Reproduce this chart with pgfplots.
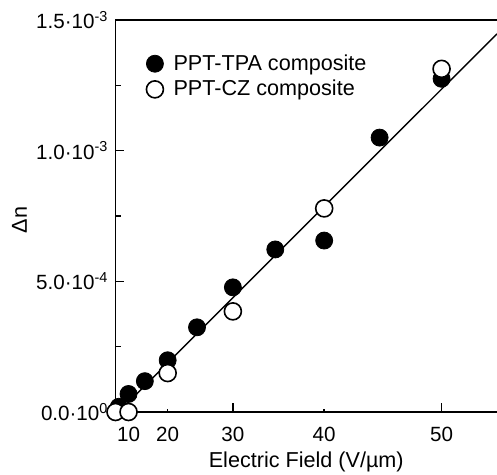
\documentclass[border=0pt]{standalone}
\usepackage{fontspec}
\setmainfont{Liberation Sans}
\usepackage{pgfplots}
\pgfplotsset{compat=1.18}

\begin{document}
\begin{tikzpicture}
\begin{axis}[
  scale only axis,
  width=190.75pt, height=196pt,
  xmin=0, xmax=2925,
  ymin=0, ymax=1.5e-3,
  clip=false,
  x filter/.expression={x*x},
  axis x line*=bottom, axis y line*=left,
  axis line style={line width=0.9pt, -},
  tick align=inside,
  tick style={black, line width=0.8pt},
  major tick length=4.5pt, minor tick length=3pt,
  xtick={900,2500}, xticklabels={30,50},
  extra x ticks={100,400,1600}, extra x tick labels={10,20,40},
  extra x tick style={major tick length=1.6pt},
  ytick={0,0.0005,0.001,0.0015},
  yticklabels={0.0·10\textsuperscript{0},5.0·10\textsuperscript{-4},1.0·10\textsuperscript{-3},1.5·10\textsuperscript{-3}},
  minor y tick num=1,
  scaled y ticks=false,
  tick label style={font=\fontsize{10.3}{12}\selectfont},
  xticklabel style={yshift=-4pt},
  xlabel={Electric Field (V/µm)},
  ylabel={Δn},
  label style={font=\fontsize{10.8}{12}\selectfont},
  xlabel style={at={(axis description cs:0.5,0)}, anchor=base, yshift=-28pt},
  ylabel style={at={(axis description cs:-0.2516,0.49)}, anchor=center},
  legend cell align=left,
  legend style={draw=none, fill=none, font=\fontsize{10.8}{12}\selectfont,
    at={(axis description cs:0,1)}, anchor=north west, xshift=9.2pt, yshift=-13pt,
    row sep=-0.5pt},
  legend image code/.code={\path (0cm,0cm) (0.5cm,0cm); \draw[#1] plot coordinates {(0.25cm,0cm)};},
  mark size=4.25pt,
]
\coordinate (O) at (rel axis cs:0,0);
\coordinate (T) at (rel axis cs:1,1);
\draw[line width=0.9pt] (rel axis cs:0,1) -- (rel axis cs:1,1);

\addplot[only marks, mark=*, mark options={fill=black, draw=black}] coordinates {
  (5,0.00002) (10,0.000069) (15,0.000118) (20,0.000198) (25,0.000324)
  (30,0.000477) (35,0.000622) (40,0.000656) (45,0.00105) (50,0.001275)
};
\addlegendentry{PPT-TPA composite}

\addplot[only marks, mark=*, mark options={fill=white, draw=black, line width=0.8pt}] coordinates {
  (0,0) (10,0) (20,0.000149) (30,0.000385) (40,0.000779) (50,0.001313)
};
\addlegendentry{PPT-CZ composite}

\addplot[black, line width=0.7pt, forget plot] coordinates {
  (5,0.000001) (54.08,0.001447)
};
\end{axis}
\pgfresetboundingbox
\path[use as bounding box] ([xshift=-57.75pt,yshift=-31.5pt]O) rectangle ([yshift=10pt]T);
\end{tikzpicture}
\end{document}
